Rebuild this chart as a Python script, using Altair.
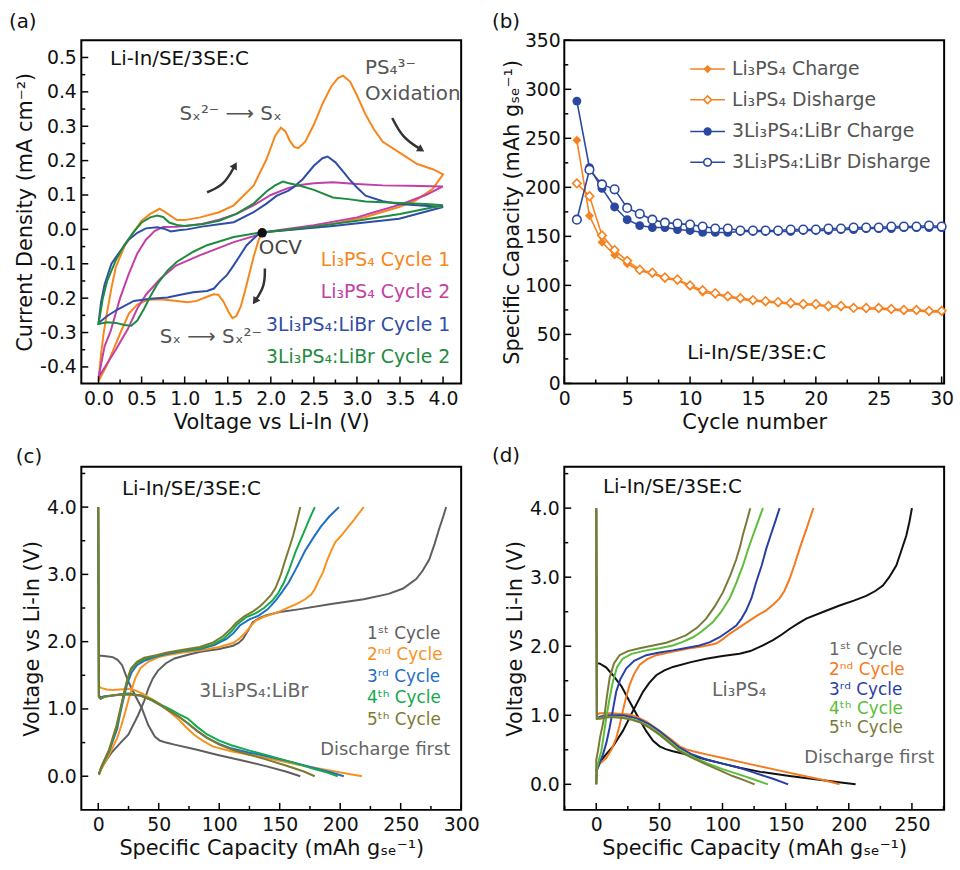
import altair as alt
import pandas as pd

FONT = "DejaVu Sans"
W, H = 383, 346

# ================= Panel (a): CV data =================
a_names = ["Li₃PS₄ Cycle 1", "Li₃PS₄ Cycle 2", "3Li₃PS₄:LiBr Cycle 1", "3Li₃PS₄:LiBr Cycle 2"]
a_colors = ["#F7861C", "#C240A6", "#2F4DA8", "#1F8B3F"]

a_li1_v = [1.90, 1.86, 1.80, 1.75, 1.70, 1.65, 1.60, 1.555, 1.51, 1.45, 1.39, 1.336, 1.26, 1.14, 1.03, 0.91, 0.72, 0.57, 0.45, 0.354, 0.26, 0.18, 0.10, 0.0,
           0.03, 0.06, 0.10, 0.15, 0.20, 0.30, 0.40, 0.50, 0.60, 0.71, 0.80, 0.91, 1.00, 1.18, 1.40, 1.57, 1.80, 1.95, 2.05, 2.117, 2.17, 2.22, 2.27, 2.318, 2.40, 2.50, 2.60, 2.70, 2.78, 2.84, 2.92, 3.00, 3.10, 3.20, 3.30, 3.49, 3.70, 3.88, 4.00,
           3.88, 3.68, 3.49, 3.10, 2.72, 2.34, 1.95, 1.90]
a_li1_i = [-0.010, -0.030, -0.080, -0.130, -0.180, -0.225, -0.252, -0.258, -0.240, -0.210, -0.190, -0.189, -0.196, -0.208, -0.212, -0.208, -0.203, -0.205, -0.219, -0.244, -0.297, -0.345, -0.393, -0.441,
           -0.360, -0.300, -0.240, -0.170, -0.110, -0.050, -0.010, 0.025, 0.045, 0.060, 0.046, 0.027, 0.027, 0.035, 0.050, 0.070, 0.127, 0.204, 0.272, 0.296, 0.285, 0.258, 0.240, 0.236, 0.255, 0.305, 0.365, 0.415, 0.440, 0.447, 0.430, 0.390, 0.334, 0.290, 0.255, 0.224, 0.190, 0.175, 0.160,
           0.118, 0.084, 0.065, 0.036, 0.016, 0.002, -0.008, -0.010]

a_li2_v = [4.00, 3.80, 3.50, 3.20, 3.00, 2.50, 2.00, 1.84, 1.57, 1.18, 0.90, 0.72, 0.55, 0.45, 0.34, 0.20, 0.10, 0.0,
           0.07, 0.14, 0.25, 0.35, 0.45, 0.55, 0.65, 0.75, 0.90, 1.00, 1.20, 1.40, 1.60, 1.80, 2.00, 2.20, 2.34, 2.50, 2.72, 3.00, 3.30, 3.60, 4.00]
a_li2_i = [0.125, 0.100, 0.072, 0.050, 0.035, 0.012, -0.005, -0.017, -0.037, -0.075, -0.105, -0.143, -0.190, -0.230, -0.290, -0.350, -0.390, -0.430,
           -0.340, -0.296, -0.200, -0.130, -0.070, -0.030, -0.005, 0.007, 0.008, 0.010, 0.016, 0.028, 0.045, 0.070, 0.100, 0.120, 0.129, 0.134, 0.137, 0.132, 0.128, 0.127, 0.125]

a_br1_v = [1.90, 1.86, 1.72, 1.57, 1.49, 1.41, 1.34, 1.26, 1.10, 0.95, 0.80, 0.60, 0.41, 0.22, 0.10, 0.0,
           0.03, 0.07, 0.15, 0.26, 0.35, 0.45, 0.55, 0.68, 0.76, 0.84, 0.95, 1.03, 1.20, 1.40, 1.57, 1.80, 1.95, 2.07, 2.20, 2.26, 2.37, 2.50, 2.60, 2.66, 2.75, 2.85, 2.91, 3.00, 3.10, 3.30, 3.49, 3.70, 4.00,
           3.49, 2.72, 2.14, 1.91, 1.90]
a_br1_i = [-0.010, -0.013, -0.046, -0.104, -0.133, -0.152, -0.172, -0.179, -0.183, -0.190, -0.198, -0.202, -0.208, -0.233, -0.252, -0.272,
           -0.210, -0.160, -0.100, -0.060, -0.030, -0.010, 0.003, 0.006, 0.002, -0.006, -0.002, 0.000, 0.008, 0.015, 0.021, 0.050, 0.075, 0.098, 0.112, 0.122, 0.146, 0.185, 0.207, 0.212, 0.195, 0.165, 0.146, 0.122, 0.098, 0.082, 0.074, 0.070, 0.065,
           0.031, 0.010, -0.003, -0.008, -0.010]

a_br2_v = [4.00, 3.50, 3.00, 2.50, 2.00, 1.90, 1.57, 1.26, 1.10, 0.91, 0.80, 0.68, 0.60, 0.53, 0.45, 0.38, 0.30, 0.20, 0.10, 0.0,
           0.05, 0.10, 0.20, 0.30, 0.40, 0.50, 0.60, 0.68, 0.75, 0.82, 0.91, 1.00, 1.20, 1.40, 1.60, 1.80, 1.95, 2.05, 2.14, 2.20, 2.35, 2.50, 2.72, 2.90, 3.10, 3.30, 3.49, 3.80, 4.00]
a_br2_i = [0.070, 0.045, 0.025, 0.008, -0.006, -0.008, -0.022, -0.046, -0.065, -0.094, -0.120, -0.160, -0.195, -0.230, -0.265, -0.280, -0.278, -0.272, -0.270, -0.275,
           -0.200, -0.150, -0.090, -0.045, -0.010, 0.020, 0.035, 0.040, 0.036, 0.020, 0.013, 0.010, 0.015, 0.025, 0.045, 0.075, 0.110, 0.128, 0.139, 0.135, 0.126, 0.115, 0.093, 0.088, 0.081, 0.079, 0.077, 0.074, 0.070]

a_ocv_v = [1.90]
a_ocv_i = [-0.010]

a_arrow1_v = [1.260, 1.457, 1.584]
a_arrow1_i = [0.108, 0.128, 0.186]
a_arrow2_v = [3.410, 3.526, 3.746]
a_arrow2_i = [0.324, 0.267, 0.232]
a_arrow3_v = [1.931, 1.931, 1.815]
a_arrow3_i = [-0.114, -0.166, -0.209]

a_x_major = [0.0, 0.5, 1.0, 1.5, 2.0, 2.5, 3.0, 3.5, 4.0]
a_x_minor = [0.25, 0.75, 1.25, 1.75, 2.25, 2.75, 3.25, 3.75]
a_y_major = [-0.4, -0.3, -0.2, -0.1, 0.0, 0.1, 0.2, 0.3, 0.4, 0.5]
a_y_minor = [-0.35, -0.25, -0.15, -0.05, 0.05, 0.15, 0.25, 0.35, 0.45]

# ================= Panel (b): cycling =================
b_cycles = list(range(1, 31))
b_li_charge = [248, 171, 144, 131, 122, 115, 112, 107, 105, 99, 93, 91, 88, 86, 84, 83, 82, 81, 80, 80, 78, 78, 77, 76, 76, 75, 74, 74, 73, 73]
b_li_dis = [204, 191, 151, 136, 125, 116, 113, 108, 106, 100, 95, 92, 89, 87, 85, 84, 83, 82, 81, 81, 79, 79, 77, 77, 77, 76, 75, 75, 74, 74]
b_br_charge = [288, 220, 199, 180, 167, 161, 159, 159, 157, 156, 154, 154, 154, 155, 155, 155, 155, 155, 156, 156, 156, 157, 157, 158, 158, 158, 159, 159, 159, 159]
b_br_dis = [167, 218, 203, 198, 179, 173, 167, 164, 163, 162, 160, 158, 158, 156, 156, 156, 156, 157, 157, 157, 158, 158, 159, 159, 159, 160, 160, 160, 161, 160]
b_names = ["Li₃PS₄ Charge", "Li₃PS₄ Disharge", "3Li₃PS₄:LiBr Charge", "3Li₃PS₄:LiBr Disharge"]
b_orange = "#F7821F"
b_blue = "#2B48A0"

b_x_major = [0, 5, 10, 15, 20, 25, 30]
b_x_minor = [2.5, 7.5, 12.5, 17.5, 22.5, 27.5]
b_y_major = [0, 50, 100, 150, 200, 250, 300, 350]
b_y_minor = [25, 75, 125, 175, 225, 275, 325]

# ================= Panel (c): 3Li3PS4:LiBr voltage profiles =================
c_names = ["1ˢᵗ Cycle", "2ⁿᵈ Cycle", "3ʳᵈ Cycle", "4ᵗʰ Cycle", "5ᵗʰ Cycle"]
c_colors = ["#5E5E5E", "#F7921E", "#1F6FC6", "#16A84A", "#7D7A30"]

c1_dis_cap = [0, 3, 8, 12, 16, 19.7, 25, 30.5, 36, 41.3, 46.7, 50.8, 56, 63, 80, 98, 120, 138.5, 155, 167]
c1_dis_v = [1.79, 1.79, 1.78, 1.77, 1.73, 1.65, 1.40, 1.20, 1.01, 0.76, 0.59, 0.53, 0.50, 0.47, 0.40, 0.32, 0.23, 0.15, 0.07, 0.0]
c1_chg_cap = [0.5, 2, 6, 11, 17, 25, 33, 38, 41.3, 45, 49.4, 56, 63, 75, 84.5, 100, 111.5, 116, 119.6, 124, 127.7, 133, 138.5, 150, 165.5, 192.5, 219.5, 240, 252, 262.8, 268, 273.6, 278, 281.7, 285, 287.6]
c1_chg_v = [0.02, 0.10, 0.22, 0.35, 0.47, 0.62, 0.91, 1.12, 1.30, 1.45, 1.57, 1.68, 1.75, 1.81, 1.85, 1.89, 1.94, 1.98, 2.04, 2.17, 2.29, 2.35, 2.39, 2.44, 2.48, 2.56, 2.63, 2.71, 2.79, 2.93, 3.05, 3.22, 3.45, 3.67, 3.85, 4.0]

c2_dis_cap = [0, 0.5, 3, 7, 11.6, 18, 25, 30, 36, 44, 52, 58, 65.6, 72, 79, 87, 95, 110, 125, 145, 165.5, 190, 205, 218]
c2_dis_v = [4.0, 1.33, 1.31, 1.29, 1.28, 1.29, 1.30, 1.28, 1.23, 1.15, 1.06, 0.97, 0.86, 0.74, 0.62, 0.52, 0.44, 0.37, 0.32, 0.25, 0.17, 0.09, 0.04, 0.0]
c2_chg_cap = [0.5, 3, 9, 15.7, 19, 22.4, 26, 30.5, 35, 41.3, 50, 57.5, 70, 84.5, 100, 111.5, 117, 122, 126, 130, 137, 144, 150, 157.4, 165, 171, 176, 179, 182, 185.8, 189, 192.5, 196, 200.6, 206, 211.4, 216, 219.5]
c2_chg_v = [0.02, 0.12, 0.32, 0.57, 0.75, 0.96, 1.20, 1.45, 1.61, 1.70, 1.77, 1.80, 1.84, 1.87, 1.92, 1.98, 2.05, 2.14, 2.23, 2.31, 2.37, 2.41, 2.45, 2.51, 2.57, 2.63, 2.70, 2.78, 2.90, 3.03, 3.20, 3.35, 3.48, 3.57, 3.69, 3.81, 3.92, 4.0]

c3_dis_cap = [0, 0.5, 2, 5, 11.6, 18, 25, 35, 44, 52, 60, 67, 73.7, 82, 90, 100, 108.8, 125, 138.5, 160, 179, 192, 203]
c3_dis_v = [4.0, 1.20, 1.17, 1.19, 1.20, 1.22, 1.23, 1.20, 1.13, 1.05, 0.96, 0.88, 0.79, 0.67, 0.57, 0.48, 0.42, 0.35, 0.30, 0.21, 0.12, 0.06, 0.0]
c3_chg_cap = [0.5, 3, 9, 15.7, 18, 21, 24, 27.8, 32, 38.6, 48, 57.5, 70, 84.5, 96, 106, 112, 117, 125, 133, 140, 146.6, 152, 157.4, 164, 171, 178, 184, 191, 199]
c3_chg_v = [0.03, 0.15, 0.37, 0.71, 0.92, 1.16, 1.38, 1.55, 1.65, 1.72, 1.78, 1.82, 1.86, 1.89, 1.95, 2.04, 2.13, 2.24, 2.33, 2.39, 2.48, 2.61, 2.74, 2.88, 3.10, 3.35, 3.55, 3.71, 3.86, 4.0]

c4_dis_cap = [0, 0.5, 2, 5, 11.6, 18, 25, 35, 44, 52, 60, 67, 73.7, 82, 90, 100, 110, 125, 140, 160, 178, 190, 198]
c4_dis_v = [4.0, 1.18, 1.15, 1.18, 1.20, 1.21, 1.22, 1.20, 1.14, 1.06, 0.99, 0.92, 0.86, 0.73, 0.62, 0.53, 0.46, 0.38, 0.31, 0.21, 0.11, 0.05, 0.0]
c4_chg_cap = [0.5, 3, 9, 15, 18, 21, 24, 27, 32, 38, 48, 57, 70, 84, 95, 104, 110, 115, 122, 130, 137, 144, 149, 153.5, 158, 163, 167, 171, 175, 179]
c4_chg_v = [0.03, 0.15, 0.38, 0.72, 0.95, 1.20, 1.42, 1.58, 1.68, 1.74, 1.79, 1.83, 1.87, 1.90, 1.96, 2.05, 2.15, 2.26, 2.36, 2.42, 2.50, 2.61, 2.73, 2.88, 3.08, 3.33, 3.50, 3.67, 3.84, 4.0]

c5_dis_cap = [0, 0.5, 2, 5, 11.6, 18, 25, 35, 44, 52, 60, 67, 73.7, 82, 90, 100, 111.5, 125, 138.5, 155, 170, 179]
c5_dis_v = [4.0, 1.18, 1.15, 1.18, 1.20, 1.21, 1.22, 1.20, 1.13, 1.05, 0.96, 0.88, 0.79, 0.67, 0.57, 0.47, 0.39, 0.32, 0.25, 0.16, 0.07, 0.0]
c5_chg_cap = [0.5, 3, 9, 15, 18, 21, 24, 27, 32, 38, 48, 57, 70, 84, 95, 103, 109, 114, 121, 128, 134, 138.5, 143, 146.6, 151, 154.7, 158, 161, 164, 167]
c5_chg_v = [0.03, 0.16, 0.40, 0.75, 0.98, 1.22, 1.44, 1.60, 1.70, 1.76, 1.80, 1.84, 1.88, 1.92, 1.99, 2.08, 2.18, 2.28, 2.38, 2.45, 2.53, 2.61, 2.70, 2.80, 3.00, 3.22, 3.40, 3.57, 3.78, 4.0]

c_x_major = [0, 50, 100, 150, 200, 250, 300]
c_x_minor = [25, 75, 125, 175, 225, 275]
c_y_major = [0.0, 1.0, 2.0, 3.0, 4.0]
c_y_minor = [0.5, 1.5, 2.5, 3.5, 4.5]

# ================= Panel (d): Li3PS4 voltage profiles =================
d_names = ["1ˢᵗ Cycle ", "2ⁿᵈ Cycle ", "3ʳᵈ Cycle ", "4ᵗʰ Cycle ", "5ᵗʰ Cycle "]
d_colors = ["#111111", "#F47A20", "#2A3FA6", "#5BBD3A", "#7A7A38"]
d_text_colors = ["#666666", "#F47A20", "#2A3FA6", "#5BBD3A", "#7A7A38"]

d1_dis_cap = [0, 2.6, 8, 13.2, 20, 26.4, 33, 39.6, 45, 50.2, 55, 60.7, 70, 87, 100, 113.5, 130, 153, 175, 192, 205.4]
d1_dis_v = [1.75, 1.75, 1.69, 1.58, 1.42, 1.20, 0.98, 0.77, 0.63, 0.55, 0.51, 0.48, 0.44, 0.36, 0.30, 0.24, 0.18, 0.12, 0.07, 0.03, 0.0]
d1_chg_cap = [0, 1, 5.3, 13.2, 21, 29, 37, 42, 47.5, 54, 60.7, 75, 87, 100, 113.5, 122, 129.4, 135, 140, 147, 153, 160, 166.3, 180, 192.7, 204, 213.8, 221, 227, 232, 237.6, 241, 245.5, 248, 250]
d1_chg_v = [0.19, 0.27, 0.38, 0.55, 0.77, 1.06, 1.34, 1.47, 1.58, 1.65, 1.70, 1.77, 1.82, 1.86, 1.89, 1.93, 1.99, 2.04, 2.09, 2.17, 2.25, 2.33, 2.40, 2.50, 2.59, 2.66, 2.73, 2.80, 2.88, 3.00, 3.17, 3.35, 3.60, 3.80, 4.0]

d2_dis_cap = [0, 0.5, 2.6, 8, 13.2, 20, 26.4, 33, 39.6, 46, 52.8, 60, 66, 71, 76.6, 88, 100.3, 120, 140, 160, 178, 192.7]
d2_dis_v = [4.0, 1.00, 1.03, 1.03, 1.03, 1.02, 1.01, 0.97, 0.91, 0.83, 0.74, 0.64, 0.55, 0.51, 0.48, 0.43, 0.38, 0.30, 0.22, 0.14, 0.07, 0.0]
d2_chg_cap = [0, 0.5, 3, 7.9, 12, 15.8, 18.5, 21, 23.5, 26.4, 30, 34.3, 40, 47.5, 60, 74, 85, 95, 100, 105.6, 113, 121.4, 128, 134.6, 140, 145, 149, 153, 157, 161, 164, 166.3, 169, 172]
d2_chg_v = [0.0, 0.22, 0.30, 0.38, 0.50, 0.67, 0.85, 1.06, 1.25, 1.44, 1.60, 1.73, 1.81, 1.87, 1.92, 1.97, 2.00, 2.04, 2.10, 2.18, 2.27, 2.37, 2.45, 2.52, 2.60, 2.69, 2.80, 2.97, 3.18, 3.41, 3.57, 3.69, 3.84, 4.0]

d3_dis_cap = [0, 0.5, 3, 7.9, 14, 21, 27, 34.3, 42, 50, 58, 66, 75, 87, 100, 113.5, 125, 140, 152]
d3_dis_v = [4.0, 0.96, 0.98, 1.00, 1.00, 1.00, 0.98, 0.94, 0.87, 0.77, 0.65, 0.53, 0.44, 0.36, 0.30, 0.24, 0.17, 0.08, 0.0]
d3_chg_cap = [0, 0.5, 2.5, 5.3, 8, 10.6, 13, 15.8, 19, 23.8, 30, 39.6, 50, 60.7, 70, 81.8, 90, 97.7, 104, 110.9, 115, 118.8, 123, 126.7, 131, 134.6, 138, 142, 145.2]
d3_chg_v = [0.0, 0.20, 0.30, 0.43, 0.60, 0.82, 1.06, 1.34, 1.52, 1.68, 1.79, 1.87, 1.91, 1.94, 1.97, 2.01, 2.06, 2.13, 2.21, 2.30, 2.40, 2.52, 2.70, 2.93, 3.17, 3.41, 3.60, 3.82, 4.0]

d4_dis_cap = [0, 0.5, 3, 7.9, 14, 21, 27, 34.3, 42, 50, 58, 66, 75, 87, 100, 113.5, 125, 136]
d4_dis_v = [4.0, 0.95, 0.96, 0.98, 0.98, 0.97, 0.95, 0.91, 0.84, 0.74, 0.62, 0.50, 0.41, 0.31, 0.22, 0.14, 0.07, 0.0]
d4_chg_cap = [0, 0.5, 2, 4, 6, 7.9, 10.5, 13.2, 16.5, 21, 28, 39.6, 50, 60.7, 68, 76.6, 84, 92.4, 99, 105.6, 111, 116.2, 120, 124, 128, 132]
d4_chg_v = [0.0, 0.22, 0.35, 0.48, 0.72, 0.96, 1.24, 1.49, 1.70, 1.82, 1.89, 1.94, 1.97, 2.01, 2.06, 2.13, 2.22, 2.35, 2.50, 2.69, 2.92, 3.17, 3.39, 3.60, 3.80, 4.0]

d5_dis_cap = [0, 0.5, 3, 7.9, 14, 21, 27, 34.3, 42, 50, 58, 66, 75, 87, 97, 108, 117, 125.4]
d5_dis_v = [4.0, 0.95, 0.95, 0.97, 0.97, 0.96, 0.94, 0.90, 0.82, 0.72, 0.60, 0.48, 0.39, 0.29, 0.21, 0.12, 0.06, 0.0]
d5_chg_cap = [0, 0, 1.5, 3, 5, 6.6, 8.5, 10.6, 14, 18.5, 25, 34.3, 45, 55.4, 63, 71.3, 80, 87, 94, 100.3, 106, 110.9, 114, 116.2, 119, 122]
d5_chg_v = [0.0, 0.35, 0.50, 0.68, 0.85, 1.01, 1.28, 1.54, 1.75, 1.87, 1.93, 1.97, 2.01, 2.05, 2.10, 2.16, 2.27, 2.40, 2.58, 2.78, 3.02, 3.26, 3.45, 3.62, 3.80, 4.0]

d_x_major = [0, 50, 100, 150, 200, 250]
d_x_minor = [-25, 25, 75, 125, 175, 225, 275]
d_y_major = [0.0, 1.0, 2.0, 3.0, 4.0]
d_y_minor = [0.5, 1.5, 2.5, 3.5, 4.5]


# ================= helpers =================
def axis(values, title, expr, lpad=6, tpad=3):
    return alt.Axis(values=values, ticks=False, domain=False, grid=False, title=title,
                    labelExpr=expr, labelFont=FONT, labelFontSize=19, labelColor="#111",
                    labelPadding=lpad, labelFlush=False, labelOverlap=False,
                    titleFont=FONT, titleFontSize=21, titleFontWeight="normal",
                    titleColor="#111", titlePadding=tpad)


def tick_layers(xmaj, xmin, ymaj, ymin, xsc, ysc, xax, yax):
    out = []
    for vals, ln in [(xmaj, 7), (xmin, 4)]:
        out.append(alt.Chart(pd.DataFrame({"x": vals})).mark_rule(color="black", strokeWidth=1.5).encode(
            x=alt.X("x:Q", scale=xsc, axis=xax), y=alt.value(H), y2=alt.value(H - ln)))
    for vals, ln in [(ymaj, 7), (ymin, 4)]:
        out.append(alt.Chart(pd.DataFrame({"y": vals})).mark_rule(color="black", strokeWidth=1.5).encode(
            y=alt.Y("y:Q", scale=ysc, axis=yax), x=alt.value(0), x2=alt.value(ln)))
    return out


def txt(text, x, y, color="#111", size=20, align="left"):
    return alt.Chart(pd.DataFrame({"k": [0]})).mark_text(
        font=FONT, fontSize=size, align=align, baseline="middle", color=color).encode(
        x=alt.value(x), y=alt.value(y), text=alt.value(text))


def path_df(pairs):
    rows = []
    for name, xs, ys in pairs:
        for k, (xv, yv) in enumerate(zip(xs, ys)):
            rows.append({"x": xv, "y": yv, "s": name, "o": k})
    return pd.DataFrame(rows)


NUM1 = "(datum.value < -1e-9 ? '-' : '') + format(abs(datum.value), '.1f')"
INT = "format(datum.value, 'd')"

# ================= Panel (a) =================
axs = alt.Scale(domain=[-0.2, 4.21], nice=False, zero=False)
ays = alt.Scale(domain=[-0.448, 0.55], nice=False, zero=False)
a_xax = axis(a_x_major, "Voltage vs Li-In (V)", NUM1, 6, 3)
a_yax = axis(a_y_major, "Current Density (mA cm⁻²)", NUM1, 5, 4)
a_df = path_df([(a_names[0], a_li1_v, a_li1_i), (a_names[1], a_li2_v, a_li2_i),
                (a_names[2], a_br1_v, a_br1_i), (a_names[3], a_br2_v, a_br2_i)])
a_lines = alt.Chart(a_df).mark_line(strokeWidth=2).encode(
    x=alt.X("x:Q", scale=axs, axis=a_xax),
    y=alt.Y("y:Q", scale=ays, axis=a_yax),
    color=alt.Color("s:N", scale=alt.Scale(domain=a_names, range=a_colors), legend=None),
    order=alt.Order("o:Q"))
a_ocv = alt.Chart(pd.DataFrame({"x": a_ocv_v, "y": a_ocv_i})).mark_point(
    filled=True, color="#111", size=90, opacity=1).encode(
    x=alt.X("x:Q", scale=axs, axis=a_xax), y=alt.Y("y:Q", scale=ays, axis=a_yax))

arrow_layers = []
for av, ai, ang in [(a_arrow1_v, a_arrow1_i, 29), (a_arrow2_v, a_arrow2_i, 122), (a_arrow3_v, a_arrow3_i, 214)]:
    adf = pd.DataFrame({"x": av, "y": ai, "o": range(len(av))})
    arrow_layers.append(alt.Chart(adf).mark_line(color="#333", strokeWidth=2.5, interpolate="basis").encode(
        x=alt.X("x:Q", scale=axs, axis=a_xax), y=alt.Y("y:Q", scale=ays, axis=a_yax), order="o:Q"))
    arrow_layers.append(alt.Chart(adf.tail(1)).mark_point(
        shape="triangle-up", filled=True, color="#333", size=70, angle=ang, opacity=1).encode(
        x=alt.X("x:Q", scale=axs, axis=a_xax), y=alt.Y("y:Q", scale=ays, axis=a_yax)))

a_texts = [
    txt("(a)", -73, -18, "#111", 20),
    txt("Li-In/SE/3SE:C", 29, 19, "#111", 20),
    txt("PS₄³⁻", 286, 28, "#555", 20),
    txt("Oxidation", 286, 54, "#555", 20),
    txt("Sₓ²⁻ ⟶ Sₓ", 99, 74, "#555", 20),
    txt("OCV", 179, 209, "#444", 20),
    txt("Sₓ ⟶ Sₓ²⁻", 79, 299, "#555", 20),
]
for nm, col, yy in zip(a_names, a_colors, [222, 254, 287, 319]):
    a_texts.append(txt(nm, 372, yy, col, 19, "right"))

panel_a = alt.layer(a_lines, *arrow_layers, a_ocv,
                    *tick_layers(a_x_major, a_x_minor, a_y_major, a_y_minor, axs, ays, a_xax, a_yax),
                    *a_texts).properties(width=W, height=H)

# ================= Panel (b) =================
bxs = alt.Scale(domain=[0, 30.2], nice=False, zero=False)
bys = alt.Scale(domain=[0, 350], nice=False, zero=False)
b_xax = axis(b_x_major, "Cycle number", INT, 6, 3)
b_yax = axis(b_y_major, "Specific Capacity (mAh gₛₑ⁻¹)", INT, 4, 2)


def b_series(vals, color, shape, open_marker):
    df = pd.DataFrame({"x": b_cycles, "y": vals})
    xe = alt.X("x:Q", scale=bxs, axis=b_xax)
    ye = alt.Y("y:Q", scale=bys, axis=b_yax)
    line = alt.Chart(df).mark_line(color=color, strokeWidth=1.6).encode(x=xe, y=ye)
    if open_marker:
        pts = alt.Chart(df).mark_point(shape=shape, filled=True, fill="white", stroke=color,
                                       strokeWidth=1.6, size=75, opacity=1).encode(x=xe, y=ye)
    else:
        pts = alt.Chart(df).mark_point(shape=shape, filled=True, color=color, size=80, opacity=1).encode(x=xe, y=ye)
    return [line, pts]


b_layers = (b_series(b_li_charge, b_orange, "diamond", False)
            + b_series(b_li_dis, b_orange, "diamond", True)
            + b_series(b_br_charge, b_blue, "circle", False)
            + b_series(b_br_dis, b_blue, "circle", True))

b_legend = []
for nm, col, shp, op, yy in zip(b_names, [b_orange, b_orange, b_blue, b_blue],
                                 ["diamond", "diamond", "circle", "circle"],
                                 [False, True, False, True], [29, 60, 92, 123]):
    b_legend.append(alt.Chart(pd.DataFrame({"k": [0]})).mark_rule(color=col, strokeWidth=1.6).encode(
        x=alt.value(127), x2=alt.value(162), y=alt.value(yy)))
    if op:
        b_legend.append(alt.Chart(pd.DataFrame({"k": [0]})).mark_point(
            shape=shp, filled=True, fill="white", stroke=col, strokeWidth=1.6, size=60, opacity=1).encode(
            x=alt.value(144.5), y=alt.value(yy)))
    else:
        b_legend.append(alt.Chart(pd.DataFrame({"k": [0]})).mark_point(
            shape=shp, filled=True, color=col, size=70, opacity=1).encode(
            x=alt.value(144.5), y=alt.value(yy)))
    b_legend.append(txt(nm, 169, yy, "#555", 19))

panel_b = alt.layer(*b_layers,
                    *tick_layers(b_x_major, b_x_minor, b_y_major, b_y_minor, bxs, bys, b_xax, b_yax),
                    *b_legend,
                    txt("(b)", -73, -18, "#111", 20),
                    txt("Li-In/SE/3SE:C", 124, 315, "#111", 20)).properties(width=W, height=H)


# ================= Panel (c) and (d) =================
def profile_panel(series, names, colors, text_colors, xdom, ydom, xmaj, xmin, ymaj, ymin,
                  label, label_xy, head_xy, mat_name, mat_xy, leg_x, leg_ys, dis_xy):
    xs = alt.Scale(domain=xdom, nice=False, zero=False)
    ys = alt.Scale(domain=ydom, nice=False, zero=False)
    xax = axis(xmaj, "Specific Capacity (mAh gₛₑ⁻¹)", INT, 6, 3)
    yax = axis(ymaj, "Voltage vs Li-In (V)", NUM1, 5, 4)
    pairs = []
    for nm, (dc, dv, cc, cv) in zip(names, series):
        pairs.append((nm + "|d", dc, dv))
        pairs.append((nm + "|c", cc, cv))
    df = path_df(pairs)
    df["cyc"] = df["s"].str.split("|").str[0]
    lines = alt.Chart(df).mark_line(strokeWidth=2).encode(
        x=alt.X("x:Q", scale=xs, axis=xax),
        y=alt.Y("y:Q", scale=ys, axis=yax),
        color=alt.Color("cyc:N", scale=alt.Scale(domain=names, range=colors), legend=None),
        detail="s:N", order=alt.Order("o:Q"))
    texts = [txt(label, label_xy[0], label_xy[1], "#111", 20),
             txt("Li-In/SE/3SE:C", head_xy[0], head_xy[1], "#111", 20),
             txt(mat_name, mat_xy[0], mat_xy[1], "#666", 19),
             txt("Discharge first", dis_xy[0], dis_xy[1], "#666", 18)]
    for nm, col, yy in zip(names, text_colors, leg_ys):
        texts.append(txt(nm.strip(), leg_x, yy, col, 17))
    return alt.layer(lines, *tick_layers(xmaj, xmin, ymaj, ymin, xs, ys, xax, yax),
                     *texts).properties(width=W, height=H)


c_series = [(c1_dis_cap, c1_dis_v, c1_chg_cap, c1_chg_v), (c2_dis_cap, c2_dis_v, c2_chg_cap, c2_chg_v),
            (c3_dis_cap, c3_dis_v, c3_chg_cap, c3_chg_v), (c4_dis_cap, c4_dis_v, c4_chg_cap, c4_chg_v),
            (c5_dis_cap, c5_dis_v, c5_chg_cap, c5_chg_v)]
d_series = [(d1_dis_cap, d1_dis_v, d1_chg_cap, d1_chg_v), (d2_dis_cap, d2_dis_v, d2_chg_cap, d2_chg_v),
            (d3_dis_cap, d3_dis_v, d3_chg_cap, d3_chg_v), (d4_dis_cap, d4_dis_v, d4_chg_cap, d4_chg_v),
            (d5_dis_cap, d5_dis_v, d5_chg_cap, d5_chg_v)]

panel_c = profile_panel(c_series, c_names, c_colors, c_colors, [-14, 300], [-0.5, 4.6],
                        c_x_major, c_x_minor, c_y_major, c_y_minor,
                        "(c)", (-66, -10), (41, 23), "3Li₃PS₄:LiBr", (119, 226),
                        288, [169, 190, 212, 233, 255], (241, 286))
panel_d = profile_panel(d_series, d_names, d_colors, d_text_colors, [-25.3, 275.5], [-0.37, 4.6],
                        d_x_major, d_x_minor, d_y_major, d_y_minor,
                        "(d)", (-73, -11), (39, 20), "Li₃PS₄", (149, 225),
                        267, [185, 205, 225, 244, 263], (242, 294))

chart = alt.concat(panel_a, panel_b, panel_c, panel_d, columns=2,
                   spacing=alt.RowColnumber(row=84, column=104), bounds="flush",
                   padding={"left": 8, "top": 8, "right": 5, "bottom": 5},
                   background="white").resolve_scale(color="independent").configure_view(
    stroke="black", strokeWidth=2)

chart.save("out.html", embed_options={"renderer": "svg", "actions": False})
